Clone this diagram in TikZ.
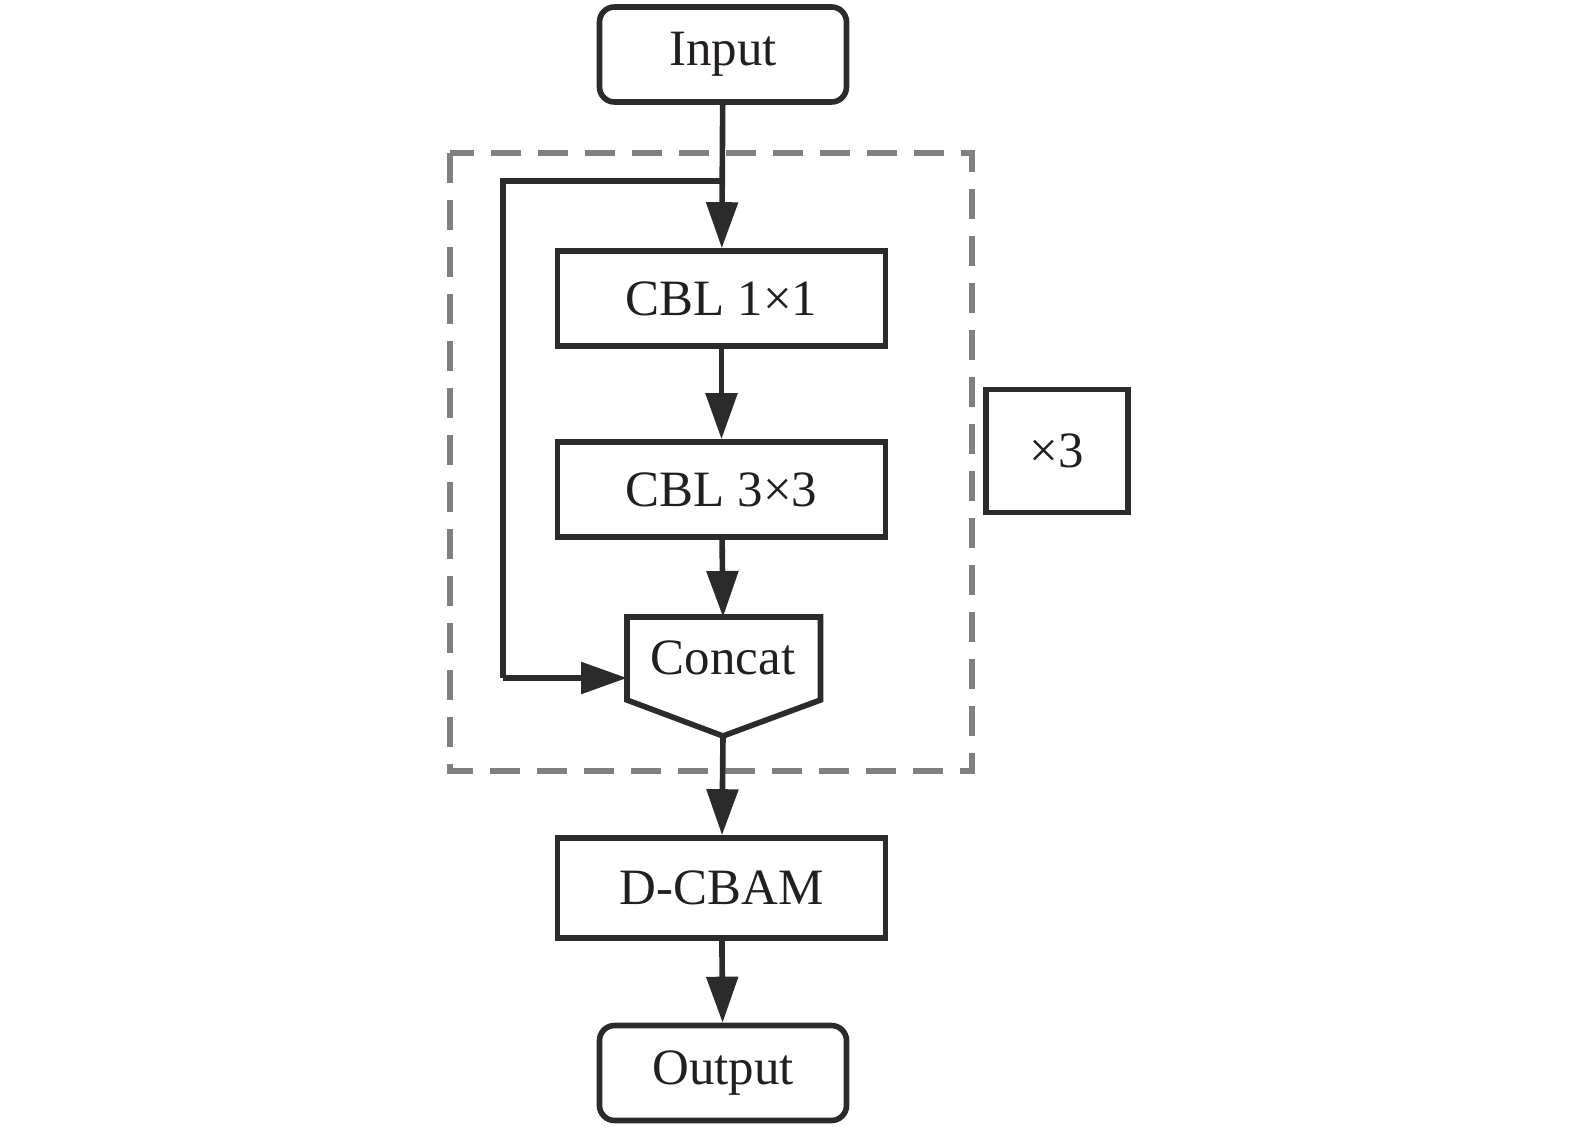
\documentclass[tikz,border=0pt]{standalone}
\usepackage{fontspec}
\setmainfont{Liberation Serif}
\usetikzlibrary{arrows.meta}

\begin{document}
\begin{tikzpicture}
% Styles
\tikzstyle{none} = []
\tikzstyle{txt}=[font=\fontsize{29}{34}\selectfont, text={rgb,255: red,35; green,31; blue,32}]
\tikzstyle{box}=[draw={rgb,255: red,43; green,43; blue,43}, line width=3.2pt, minimum width=6.56cm, minimum height=1.9cm, inner sep=0cm, style=txt]
\tikzstyle{terminal}=[style=box, rounded corners=0.3cm, minimum width=4.94cm]
\tikzstyle{wire}=[draw={rgb,255: red,43; green,43; blue,43}, line width=3.2pt, line join=miter]
\tikzstyle{arrow}=[style=wire, -{Triangle[length=0.92cm, width=0.62cm]}]
\tikzstyle{greydash}=[draw={rgb,255: red,128; green,128; blue,128}, line width=3pt, dash pattern=on 0.6cm off 0.34cm]

\useasboundingbox (-14.46, 0) rectangle (17.04, -22.64);

\node [style=terminal] (0) at (0, -1.09) {Input};
\node [style=box] (1) at (-0.03, -5.97) {CBL 1×1};
\node [style=box] (2) at (-0.03, -9.79) {CBL 3×3};
\node [style=txt] (3) at (0, -13.16) {Concat};
\node [style=box, minimum height=2cm] (4) at (-0.03, -17.76) {D-CBAM};
\node [style=terminal] (5) at (0, -21.46) {Output};
\node [style=box, minimum width=2.84cm, minimum height=2.46cm] (6) at (6.68, -9.02) {×3};
\coordinate (7) at (-1.92, -12.34);
\coordinate (8) at (1.95, -12.34);
\coordinate (9) at (1.95, -14);
\coordinate (10) at (0, -14.72);
\coordinate (11) at (-1.92, -14);
\coordinate (12) at (0, -12.34);
\coordinate (13) at (-1.92, -13.56);
\coordinate (14) at (0, -3.62);
\coordinate (15) at (-4.4, -3.62);
\coordinate (16) at (-4.4, -13.56);
\coordinate (17) at (-5.46, -3.06);
\coordinate (18) at (4.98, -15.42);

\draw [style=greydash] (17) rectangle (18);
\draw [style=wire] (7) -- (8) -- (9) -- (10) -- (11) -- cycle;
\draw [style=arrow] (0) to (1);
\draw [style=arrow] (1) to (2);
\draw [style=arrow] (2) to (12);
\draw [style=arrow] (10) to (4);
\draw [style=arrow] (4) to (5);
\draw [style=wire] (14) -- (15) -- (16);
\draw [style=arrow] (16) to (13);
\end{tikzpicture}
\end{document}
